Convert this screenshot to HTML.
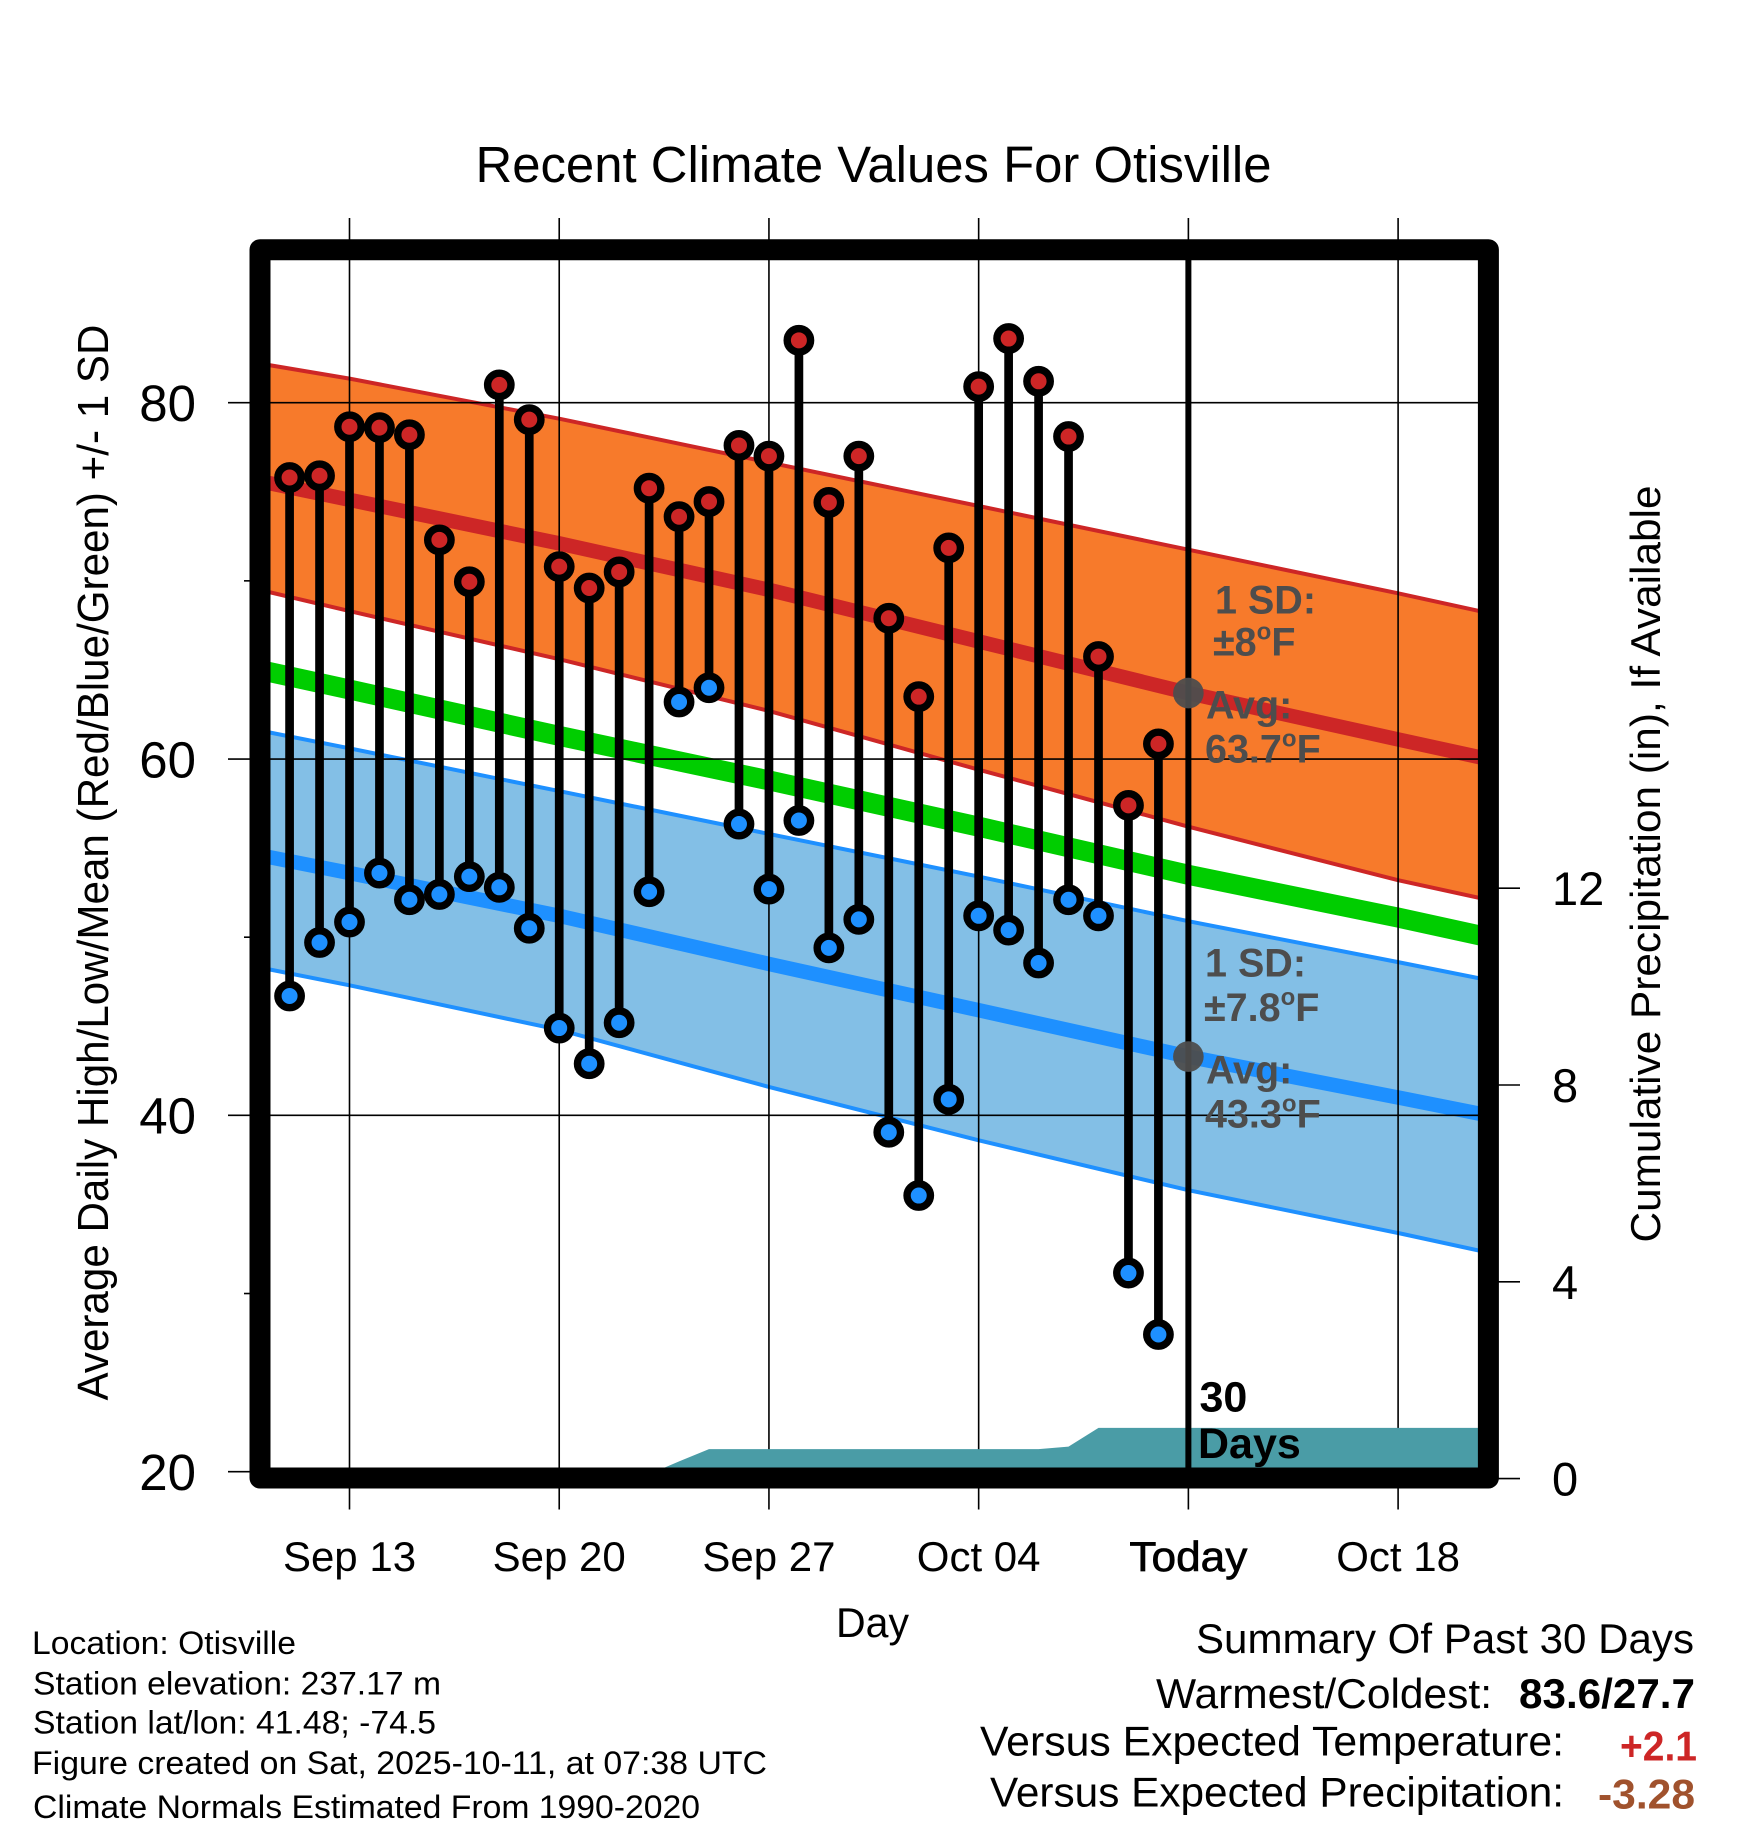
<!DOCTYPE html>
<html lang="en">
<head>
<meta charset="utf-8">
<title>Recent Climate Values For Otisville</title>
<style>
html,body{margin:0;padding:0;background:#fff;}
svg{display:block;font-family:"Liberation Sans",Arial,sans-serif;}
</style>
</head>
<body>
<svg id="chart" xmlns="http://www.w3.org/2000/svg" width="1748" height="1828" viewBox="0 0 1748 1828">
  <defs>
    <clipPath id="plot-clip"><rect x="260" y="250" width="1228" height="1228"/></clipPath>
  </defs>
  <rect x="0" y="0" width="1748" height="1828" fill="#ffffff"/>
  <g id="bands" clip-path="url(#plot-clip)"></g>
  <g id="grid"></g>
  <g id="precip" clip-path="url(#plot-clip)"></g>
  <g id="series" clip-path="url(#plot-clip)"></g>
  <g id="today-layer"></g>
  <rect x="260" y="249.7" width="1228.4" height="1228.3" fill="none" stroke="#000" stroke-width="21" stroke-linejoin="round"/>
  <g id="axes"></g>

  <text x="475.5" y="182" font-size="51" textLength="796" lengthAdjust="spacingAndGlyphs">Recent Climate Values For Otisville</text>
  <text transform="translate(108,1400.5) rotate(-90)" font-size="44" textLength="1076" lengthAdjust="spacingAndGlyphs">Average Daily High/Low/Mean (Red/Blue/Green) +/- 1 SD</text>
  <text transform="translate(1660,1242.5) rotate(-90)" font-size="42" textLength="757" lengthAdjust="spacingAndGlyphs">Cumulative Precipitation (in), If Available</text>
  <text x="872.5" y="1637" font-size="42" text-anchor="middle" textLength="73" lengthAdjust="spacingAndGlyphs">Day</text>

  <g font-weight="bold" fill="#4d4d4d" font-size="39.5">
    <text x="1215" y="613.5">1 SD:</text>
    <text x="1213" y="655.5">±8<tspan font-size="24" dy="-16">o</tspan><tspan dy="16">F</tspan></text>
    <text x="1206" y="718.5">Avg:</text>
    <text x="1205" y="762.5">63.7<tspan font-size="24" dy="-16">o</tspan><tspan dy="16">F</tspan></text>
    <text x="1205" y="976.5">1 SD:</text>
    <text x="1204" y="1021">±7.8<tspan font-size="24" dy="-16">o</tspan><tspan dy="16">F</tspan></text>
    <text x="1206" y="1083.5">Avg:</text>
    <text x="1205" y="1127.5">43.3<tspan font-size="24" dy="-16">o</tspan><tspan dy="16">F</tspan></text>
  </g>
  <g font-weight="bold" font-size="43" fill="#000">
    <text x="1199.5" y="1411.5">30</text>
    <text x="1198" y="1458">Days</text>
  </g>

  <g font-size="32" fill="#000">
    <text x="32" y="1654" textLength="264" lengthAdjust="spacingAndGlyphs">Location: Otisville</text>
    <text x="33" y="1694.5" textLength="408" lengthAdjust="spacingAndGlyphs">Station elevation: 237.17 m</text>
    <text x="33" y="1733.5" textLength="403" lengthAdjust="spacingAndGlyphs">Station lat/lon: 41.48; -74.5</text>
    <text x="32" y="1774" textLength="735" lengthAdjust="spacingAndGlyphs">Figure created on Sat, 2025-10-11, at 07:38 UTC</text>
    <text x="33" y="1818" textLength="667" lengthAdjust="spacingAndGlyphs">Climate Normals Estimated From 1990-2020</text>
  </g>

  <g font-size="42" fill="#000">
    <text x="1196" y="1653" textLength="498" lengthAdjust="spacingAndGlyphs">Summary Of Past 30 Days</text>
    <text x="1156" y="1708" textLength="336" lengthAdjust="spacingAndGlyphs">Warmest/Coldest:</text>
    <text x="1519" y="1708" font-weight="bold" textLength="176" lengthAdjust="spacingAndGlyphs">83.6/27.7</text>
    <text x="980" y="1755.5" textLength="584" lengthAdjust="spacingAndGlyphs">Versus Expected Temperature:</text>
    <text x="1620" y="1760.5" font-weight="bold" fill="#cd2626" textLength="77" lengthAdjust="spacingAndGlyphs">+2.1</text>
    <text x="990" y="1806.5" textLength="574" lengthAdjust="spacingAndGlyphs">Versus Expected Precipitation:</text>
    <text x="1598" y="1808.5" font-weight="bold" fill="#a0522d" textLength="97" lengthAdjust="spacingAndGlyphs">-3.28</text>
  </g>
</svg>

<script>
const days = ["Sep 11","Sep 12","Sep 13","Sep 14","Sep 15","Sep 16","Sep 17","Sep 18","Sep 19","Sep 20","Sep 21","Sep 22","Sep 23","Sep 24","Sep 25","Sep 26","Sep 27","Sep 28","Sep 29","Sep 30","Oct 01","Oct 02","Oct 03","Oct 04","Oct 05","Oct 06","Oct 07","Oct 08","Oct 09","Oct 10"];
const highs = [75.8,75.9,78.65,78.6,78.2,72.3,69.95,81.0,79.05,70.8,69.6,70.5,75.2,73.6,74.45,77.6,77.0,83.5,74.4,77.0,67.9,63.5,71.85,80.9,83.6,81.2,78.1,65.75,57.4,60.85];
const lows = [46.7,49.7,50.85,53.6,52.1,52.4,53.4,52.8,50.5,44.9,42.9,45.2,52.55,63.2,64.0,56.35,52.7,56.55,49.4,51.0,39.05,35.5,40.9,51.2,50.4,48.55,52.1,51.2,31.15,27.7];

const normalDays = ["Sep 10","Sep 13","Sep 20","Sep 27","Oct 04","Oct 11","Oct 18","Oct 21"];
const highUpper = [82.2,81.35,79.1,76.65,74.2,71.75,69.3,68.2];
const highMean = [75.6,74.55,72.1,69.5,66.6,63.7,61.1,60.0];
const highLower = [69.5,68.3,65.6,62.7,59.4,56.2,53.2,52.1];
const meanNormal = [65.0,63.9,61.3,58.8,56.2,53.5,51.1,50.0];
const lowUpper = [61.6,60.6,58.2,55.8,53.4,50.9,48.6,47.6];
const lowMean = [54.6,53.6,51.2,48.5,45.9,43.3,41.0,40.0];
const lowLower = [48.3,47.3,44.8,41.6,38.6,35.8,33.4,32.3];

const precipDays = ["Sep 10","Sep 22","Sep 23","Sep 24","Sep 25","Oct 06","Oct 07","Oct 08","Oct 21"];
const precipValues = [0,0,0.09,0.35,0.6,0.6,0.65,1.03,1.03];

const tempMajorTicks = [20,40,60,80];
const tempMinorTicks = [30,50,70];
const precipTicks = [0,4,8,12];
const dateTicks = ["Sep 13","Sep 20","Sep 27","Oct 04","Oct 11","Oct 18"];
const dateTickLabels = ["Sep 13","Sep 20","Sep 27","Oct 04","Today","Oct 18"];
const todayLabel = "Oct 11";
const todayHigh = 63.7;
const todayLow = 43.3;

const NS = "http://www.w3.org/2000/svg";
function dayNumber(label){
  const parts = label.split(" ");
  return (parts[0] === "Oct" ? 30 : 0) + Number(parts[1]);
}
function xScale(label){ return 349.5 + (dayNumber(label) - 13) * 29.96; }
function yTemp(v){ return 1471.7 - (v - 20) * 17.817; }
function yPrecip(v){ return 1478.6 - v * 49.2; }
function make(tag, parent, attrs){
  const el = document.createElementNS(NS, tag);
  for (const k in attrs) el.setAttribute(k, attrs[k]);
  parent.appendChild(el);
  return el;
}
function pts(ds, vs, yf){ return ds.map((d,i)=>xScale(d).toFixed(1)+","+yf(vs[i]).toFixed(1)); }

const bands = document.getElementById("bands");
const grid = document.getElementById("grid");
const precip = document.getElementById("precip");
const series = document.getElementById("series");
const todayLayer = document.getElementById("today-layer");
const axes = document.getElementById("axes");

/* shaded standard-deviation bands */
const highBand = make("polygon", bands, {points: pts(normalDays, highUpper, yTemp).concat(pts(normalDays, highLower, yTemp).reverse()).join(" "), fill:"#f77a2b"});


const lowBand = make("polygon", bands, {points: pts(normalDays, lowUpper, yTemp).concat(pts(normalDays, lowLower, yTemp).reverse()).join(" "), fill:"#83bfe6"});



const highUpperLine = make("polyline", bands, {points: pts(normalDays, highUpper, yTemp).join(" "), fill:"none", stroke:"#cd2626", "stroke-width":4});


const highLowerLine = make("polyline", bands, {points: pts(normalDays, highLower, yTemp).join(" "), fill:"none", stroke:"#cd2626", "stroke-width":4});


const highMeanLine = make("polyline", bands, {points: pts(normalDays, highMean, yTemp).join(" "), fill:"none", stroke:"#cd2626", "stroke-width":14.5});


const meanLine = make("polyline", bands, {points: pts(normalDays, meanNormal, yTemp).join(" "), fill:"none", stroke:"#00cd00", "stroke-width":20});


const lowUpperLine = make("polyline", bands, {points: pts(normalDays, lowUpper, yTemp).join(" "), fill:"none", stroke:"#1e90ff", "stroke-width":4});


const lowLowerLine = make("polyline", bands, {points: pts(normalDays, lowLower, yTemp).join(" "), fill:"none", stroke:"#1e90ff", "stroke-width":4});


const lowMeanLine = make("polyline", bands, {points: pts(normalDays, lowMean, yTemp).join(" "), fill:"none", stroke:"#1e90ff", "stroke-width":14.5});



/* grid lines */
tempMajorTicks.forEach(function(v){
  if (v === 20) return;
  const line = make("line", grid, {x1:260, x2:1488, y1:yTemp(v), y2:yTemp(v), stroke:"#000", "stroke-width":1.6});
  
  
});
dateTicks.forEach(function(d){
  const line = make("line", grid, {x1:xScale(d), x2:xScale(d), y1:218, y2:1509.5, stroke:"#000", "stroke-width":1.6});
  
  
});

/* cumulative precipitation area */
const precipArea = make("polygon", precip, {
  points: pts(precipDays, precipValues, yPrecip).concat([xScale(precipDays[precipDays.length-1]).toFixed(1)+","+yPrecip(0).toFixed(1), xScale(precipDays[0]).toFixed(1)+","+yPrecip(0).toFixed(1)]).join(" "),
  fill:"#4a9ca6"
});



/* daily high/low stems */
days.forEach(function(d,i){
  const x = xScale(d);
  const stem = make("line", series, {x1:x, x2:x, y1:yTemp(highs[i]), y2:yTemp(lows[i]), stroke:"#000", "stroke-width":8.7});
  
  
  const hi = make("circle", series, {cx:x, cy:yTemp(highs[i]), r:11.7, fill:"#cd2626", stroke:"#000", "stroke-width":7.4});
  
  
  const lo = make("circle", series, {cx:x, cy:yTemp(lows[i]), r:11.7, fill:"#1e90ff", stroke:"#000", "stroke-width":7.4});
  
  
});

/* today marker */
const todayX = xScale(todayLabel);
const todayLine = make("line", todayLayer, {x1:todayX, x2:todayX, y1:255, y2:1472, stroke:"#000", "stroke-width":6});


const todayHighDot = make("circle", todayLayer, {cx:todayX, cy:yTemp(todayHigh), r:15.3, fill:"#4d4d4d", "fill-opacity":0.95});


const todayLowDot = make("circle", todayLayer, {cx:todayX, cy:yTemp(todayLow), r:15.3, fill:"#4d4d4d", "fill-opacity":0.95});



/* axes */
tempMajorTicks.forEach(function(v){
  const tick = make("line", axes, {x1:228, x2:255, y1:yTemp(v), y2:yTemp(v), stroke:"#000", "stroke-width":1.6});
  
  
  const label = make("text", axes, {x:196, y:yTemp(v)+18.3, "font-size":51, "text-anchor":"end"});
  label.textContent = String(v);
  
  
});
tempMinorTicks.forEach(function(v){
  const tick = make("line", axes, {x1:244, x2:255, y1:yTemp(v), y2:yTemp(v), stroke:"#000", "stroke-width":1.6});
  
  
});
precipTicks.forEach(function(v){
  const tick = make("line", axes, {x1:1495, x2:1520, y1:yPrecip(v), y2:yPrecip(v), stroke:"#000", "stroke-width":1.6});
  
  
  const label = make("text", axes, {x:1552, y:yPrecip(v)+17, "font-size":47});
  label.textContent = String(v);
  
  
});
dateTicks.forEach(function(d,i){
  const isToday = d === todayLabel;
  const label = make("text", axes, {x:xScale(d), y:1571, "font-size":42, "text-anchor":"middle"});
  if (isToday) {
    label.setAttribute("stroke", "#000");
    label.setAttribute("stroke-width", "0.7");
    label.setAttribute("textLength", "118");
    label.setAttribute("lengthAdjust", "spacingAndGlyphs");
  }
  label.textContent = dateTickLabels[i];
  
  
});
</script>
</body>
</html>
